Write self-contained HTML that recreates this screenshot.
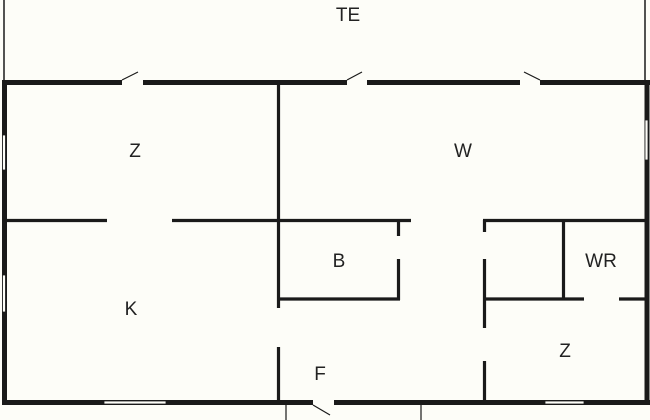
<!DOCTYPE html>
<html><head><style>
html,body{margin:0;padding:0;background:#fdfdf8;}
svg{display:block}
text{font-family:"Liberation Sans",sans-serif;font-size:19px;fill:#222;text-anchor:middle}
</style></head><body>
<svg width="650" height="420" viewBox="0 0 650 420">
<rect width="650" height="420" fill="#fdfdf8"/>
<g stroke="#1a1a1a" fill="none">
<!-- terrace lines -->
<line x1="4" y1="0" x2="4" y2="80" stroke-width="1.5"/>
<line x1="645" y1="0" x2="645" y2="80" stroke-width="1.5"/>
<!-- outer walls -->
<g stroke-width="5">
<line x1="2" y1="82.5" x2="122" y2="82.5"/>
<line x1="143" y1="82.5" x2="347" y2="82.5"/>
<line x1="367" y1="82.5" x2="520" y2="82.5"/>
<line x1="540" y1="82.5" x2="650" y2="82.5"/>
<line x1="4.5" y1="80" x2="4.5" y2="405"/>
<line x1="647" y1="80" x2="647" y2="405"/>
<line x1="2" y1="402.5" x2="313" y2="402.5"/>
<line x1="334" y1="402.5" x2="650" y2="402.5"/>
</g>
<!-- door leaves -->
<g stroke-width="1.2">
<line x1="122" y1="80" x2="138" y2="72"/>
<line x1="347" y1="80" x2="362" y2="72"/>
<line x1="540" y1="80" x2="524" y2="72"/>
<line x1="313" y1="405" x2="330" y2="415"/>
<line x1="286" y1="405" x2="286" y2="420"/>
<line x1="421" y1="405" x2="421" y2="420"/>
</g>
<!-- interior walls -->
<g stroke-width="3.2">
<line x1="6" y1="220.5" x2="107" y2="220.5"/>
<line x1="172" y1="220.5" x2="411" y2="220.5"/>
<line x1="278.5" y1="85" x2="278.5" y2="308"/>
<line x1="278.5" y1="347" x2="278.5" y2="400"/>
<line x1="278" y1="299" x2="400" y2="299"/>
<line x1="398.5" y1="220" x2="398.5" y2="236"/>
<line x1="398.5" y1="259" x2="398.5" y2="300"/>
<line x1="484.5" y1="220" x2="484.5" y2="232"/>
<line x1="484.5" y1="259" x2="484.5" y2="328"/>
<line x1="483" y1="220.5" x2="645" y2="220.5"/>
<line x1="563.5" y1="220" x2="563.5" y2="299"/>
<line x1="484" y1="299" x2="584" y2="299"/>
<line x1="619" y1="299" x2="645" y2="299"/>
<line x1="484.5" y1="361" x2="484.5" y2="400"/>
</g>
</g>
<!-- windows -->
<g fill="#fdfdf8" stroke="#1a1a1a" stroke-width="0.8">
<rect x="2.5" y="135" width="3" height="35"/>
<rect x="2.5" y="275" width="3" height="37"/>
<rect x="645" y="120" width="3" height="40"/>
<rect x="104" y="401" width="62" height="3"/>
<rect x="545" y="401" width="39" height="3"/>
</g>
<text x="348" y="21">TE</text>
<text x="135" y="157">Z</text>
<text x="463" y="157">W</text>
<text x="339" y="267">B</text>
<text x="601" y="267">WR</text>
<text x="131" y="315">K</text>
<text x="320" y="380">F</text>
<text x="565" y="357">Z</text>
</svg>
</body></html>
